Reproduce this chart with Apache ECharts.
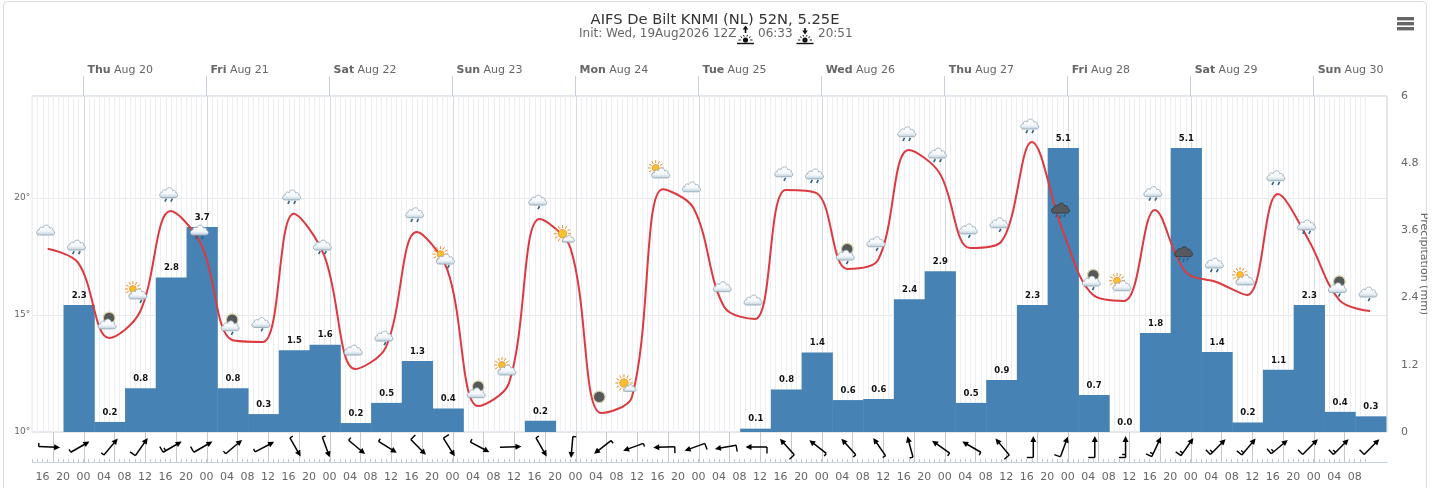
<!DOCTYPE html>
<html><head><meta charset="utf-8">
<style>html,body{margin:0;padding:0;background:#fff;overflow:hidden}#c{width:1432px;height:488px}</style>
<script src="https://cdn.jsdelivr.net/npm/echarts@6/dist/echarts.min.js"></script>
</head><body><div id="c"></div>
<script>
const FONT = '"DejaVu Sans", Verdana, sans-serif';
const titleText = 'AIFS De Bilt KNMI (NL) 52N, 5.25E';
const initText = 'Init: Wed, 19Aug2026 12Z';
const sunriseText = '06:33';
const sunsetText = '20:51';
const precipAxisName = 'Precipitation (mm)';
const dayHours = [0,24,48,72,96,120,144,168,192,216,240];
const dayNames = ['Thu','Fri','Sat','Sun','Mon','Tue','Wed','Thu','Fri','Sat','Sun'];
const dayDates = ['Aug 20','Aug 21','Aug 22','Aug 23','Aug 24','Aug 25','Aug 26','Aug 27','Aug 28','Aug 29','Aug 30'];
const temperature = [17.83,17.22,14.02,15.13,19.44,18.0,13.93,13.85,19.33,17.52,12.69,13.63,18.55,16.92,11.11,12.09,19.10,17.86,10.81,11.5,20.38,19.57,15.34,14.83,20.34,20.21,16.97,17.35,22.05,21.07,17.86,18.12,22.39,18.63,15.85,15.60,19.49,16.84,16.41,15.85,20.17,18.21,15.64,15.17];
const iconTemps = [18.63,17.99,14.62,15.90,20.23,18.63,14.54,14.68,20.13,17.99,13.50,14.10,19.37,17.39,11.68,12.65,19.91,18.26,11.50,11.88,21.07,20.48,16.21,15.64,21.12,21.03,17.56,18.13,22.83,21.92,18.68,18.94,23.16,19.57,16.45,16.25,20.27,17.71,17.22,16.50,20.95,18.85,16.17,15.98];
const iconKinds = ['c','r2','moon','sund','r2','r2','moond','r1','r2','r2','c','r1','r2','sund','moon','sun','r1','bigsun','moononly','bigsun','sun','c','c','c','r1','r2','moond','r1','r2','r2','r1','r1','r2','storm','moond','sun','r2','storm','r2','sun','r2','r2','moond','r1'];
const precipitation = [2.27,0.18,0.78,2.76,3.66,0.78,0.32,1.46,1.56,0.16,0.52,1.27,0.42,null,null,0.2,null,null,null,null,null,null,0.06,0.76,1.42,0.57,0.59,2.37,2.87,0.52,0.93,2.27,5.07,0.66,0,1.77,5.07,1.43,0.17,1.11,2.27,0.36,0.28];
const windBearing = [93,60,40,35,60,60,50,62,150,160,130,122,135,148,118,88,150,185,232,250,268,250,260,270,318,308,318,325,345,305,300,320,0,20,0,0,25,35,45,40,50,45,45,45];
const windKnots = [5,5,5,10,15,10,5,5,5,5,5,5,10,10,5,0,5,5,5,5,10,10,10,10,10,5,5,5,5,5,5,10,10,10,10,15,15,15,15,15,15,10,15,10];

const firstPointHour = -7, stepHours = 6;
const pointHour = k => firstPointHour + stepHours * k;
const barHour = k => -0.85 + stepHours * k;
const X_MIN = -10, X_MAX = 254.3, GRID_END = 250;
const hourTicks = [], fourHourTicks = [], sixHourTicks = [], allHours = [];
for (let h = X_MIN; h <= GRID_END; h++) {
  allHours.push([h, 0]);
  hourTicks.push(h);
  if (((h % 4) + 4) % 4 === 0 && h <= 248 && h >= -8) fourHourTicks.push(h);
  if (((h % 6) + 6) % 6 === 0) sixHourTicks.push([h, 0]);
}

const CLOUD = 'M-7,5 C-10.5,5 -10.5,0.4 -7,0.2 C-7.2,-2.4 -4,-3 -2.8,-1.6 C-2,-5 3.4,-5.4 4.4,-1.4 C6.4,-2.6 8.2,-1 7.6,0.6 C10.4,1 10.4,5 7,5 Z';
function cloud(x, y, s, dark) {
  return {type:'path', shape:{pathData:CLOUD, layout:'cover', x:x-9*s, y:y-5*s, width:18*s, height:10*s},
    style:{fill: dark ? '#55595e' : new echarts.graphic.LinearGradient(0,0,0,1,[{offset:0,color:'#ffffff'},{offset:0.6,color:'#f3f7fa'},{offset:1,color:'#b9cddb'}]),
      stroke: dark ? '#33373a' : '#8fa3b2', lineWidth:0.8}};
}
function drop(x, y) { return {type:'line', shape:{x1:x+0.8,y1:y-1.5,x2:x-0.8,y2:y+1.5}, style:{stroke:'#2f6286', lineWidth:1.6}}; }
function sun(x, y, r) {
  const out = [];
  for (let i = 0; i < 12; i++) {
    const a = i * Math.PI / 6;
    out.push({type:'line', shape:{x1:x+Math.cos(a)*(r+1.5), y1:y+Math.sin(a)*(r+1.5), x2:x+Math.cos(a)*(r+4.5), y2:y+Math.sin(a)*(r+4.5)}, style:{stroke:'#f28c28', lineWidth:1}});
  }
  out.push({type:'circle', shape:{cx:x,cy:y,r:r}, style:{fill:'#fbc02d', stroke:'#f28c28', lineWidth:0.8}});
  return out;
}
function moon(x, y) {
  return [{type:'circle', shape:{cx:x,cy:y,r:5.8}, style:{fill:'#55585a', stroke:'#d8cfa8', lineWidth:1.2}}];
}
function iconParts(kind) {
  switch (kind) {
    case 'c': return [cloud(0,0,1)];
    case 'r1': return [cloud(0,0,1), drop(1,7.5)];
    case 'r2': return [cloud(0,0,1), drop(-3,7.5), drop(3,7.5)];
    case 'sun': return [...sun(-5,-5,3.4), cloud(0,0,1)];
    case 'sund': return [...sun(-5,-5,3.4), cloud(0,0,1), drop(3,7.5)];
    case 'moon': return [...moon(2,-6), cloud(0,0,1)];
    case 'moond': return [...moon(2,-6), cloud(0,0,1), drop(2,7.5)];
    case 'bigsun': return [...sun(-6,-5,4.2), cloud(0,0,0.68)];
    case 'moononly': return [...moon(0,0)];
    case 'storm': return [cloud(0,0,1,true), drop(-4,7.5), drop(0,8.5), drop(4,7.5)];
  }
  return [];
}

const barData = precipitation.map((v, i) => [barHour(i), v]).filter(d => d[1] !== null);
const lineData = temperature.map((v, k) => [pointHour(k), v]);
const iconData = iconTemps.map((v, k) => [pointHour(k), v, k]);
const windData = windBearing.map((b, k) => [pointHour(k), 0.5, b, windKnots[k]]);

function sunGlyph(cx, up) {
  const y0 = 40, kids = [];
  kids.push({type:'line', shape:{x1:cx-8.5,y1:43.5,x2:cx+8.5,y2:43.5}, style:{stroke:'#111',lineWidth:1.4}});
  kids.push({type:'circle', shape:{cx:cx,cy:y0,r:2.6}, style:{fill:'#111'}});
  [[-7,0],[-5,-3.4],[-2,-5],[2,-5],[5,-3.4],[7,0]].forEach(p => {
    kids.push({type:'line', shape:{x1:cx+p[0]*0.68,y1:y0+p[1]*0.68,x2:cx+p[0],y2:y0+p[1]}, style:{stroke:'#111',lineWidth:1}});
  });
  kids.push({type:'line', shape:{x1:cx,y1:28,x2:cx,y2:33}, style:{stroke:'#111',lineWidth:1.6}});
  kids.push({type:'polygon', shape:{points: up ? [[cx,25.5],[cx+2.8,29.5],[cx-2.8,29.5]] : [[cx,34.5],[cx+2.8,30.5],[cx-2.8,30.5]]}, style:{fill:'#111'}});
  return kids;
}
const subStyle = {font:'12px '+FONT, fill:'#666'};

const option = {
  animation:false,
  backgroundColor:'#ffffff',
  title:{text:titleText, left:710, top:8, textAlign:'center', textStyle:{fontFamily:FONT,fontSize:14.7,fontWeight:'normal',color:'#333'}},
  grid:[
    {left:32.26, width:1354.74, top:96, height:336, show:true, borderColor:'#c6cfdd', borderWidth:1, backgroundColor:'transparent', outerBoundsMode:'none'},
    {left:32.26, width:1354.74, top:432, height:30, show:false, outerBoundsMode:'none'}
  ],
  xAxis:[
    {type:'value', gridIndex:0, min:X_MIN, max:X_MAX, show:false},
    {type:'value', gridIndex:0, min:X_MIN, max:X_MAX, position:'top',
      axisLine:{show:false}, splitLine:{show:false},
      axisTick:{show:true, length:20, customValues:dayHours, lineStyle:{color:'#c6cfdd'}},
      axisLabel:{show:true, customValues:dayHours, align:'left', margin:20, padding:[0,0,0,4],
        formatter:v=>{const i=dayHours.indexOf(v); return '{d|'+dayNames[i]+'} {a|'+dayDates[i]+'}';},
        rich:{d:{fontFamily:FONT,fontSize:11,fontWeight:'bold',color:'#666'},a:{fontFamily:FONT,fontSize:11,color:'#666'}}}},
    {type:'value', gridIndex:1, min:X_MIN, max:X_MAX, position:'bottom',
      axisLine:{show:true,lineStyle:{color:'#c6cfdd'}}, splitLine:{show:false},
      axisTick:{show:true, inside:true, length:3, customValues:hourTicks, lineStyle:{color:'#bfc7d3'}},
      axisLabel:{show:true, customValues:fourHourTicks, margin:10, fontFamily:FONT, fontSize:11, color:'#666',
        formatter:v=>{const h=(((v%24)+24)%24); return (h<10?'0':'')+h;}}}
  ],
  yAxis:[
    {type:'value', gridIndex:0, min:10, max:24.36, interval:5, position:'left',
      axisLine:{show:false}, axisTick:{show:false}, splitLine:{show:true,lineStyle:{color:'#e8e8e8'}},
      axisLabel:{margin:2, fontFamily:FONT, fontSize:9, color:'#666', showMaxLabel:false, formatter:v=>v+'°'}},
    {type:'value', gridIndex:0, min:0, max:6, interval:1.2, position:'right',
      axisLine:{show:false}, axisTick:{show:false}, splitLine:{show:false},
      axisLabel:{margin:14, fontFamily:FONT, fontSize:11, color:'#666', formatter:v=>+v.toFixed(1)+''}},
    {type:'value', gridIndex:1, min:0, max:1, show:false}
  ],
  series:[
    {type:'custom', xAxisIndex:0, yAxisIndex:0, z:1, silent:true, clip:false, data:allHours, encode:{x:0,y:1},
      renderItem:(p,api)=>{
        const h=api.value(0), a=api.coord([h,24.36]), b=api.coord([h,10]), x=Math.round(a[0])+0.5;
        return {type:'line', shape:{x1:x,y1:a[1],x2:x,y2:b[1]}, style:{stroke:(((h%24)+24)%24===0)?'#d5dbe5':'#eceef1',lineWidth:1}};
      }},
    {type:'custom', xAxisIndex:2, yAxisIndex:2, z:1, silent:true, clip:false, data:sixHourTicks, encode:{x:0,y:1},
      renderItem:(p,api)=>{
        const h=api.value(0), a=api.coord([h,1]), b=api.coord([h,0]), x=Math.round(a[0])+0.5;
        return {type:'line', shape:{x1:x,y1:a[1],x2:x,y2:b[1]}, style:{stroke:'#c8c8c8',lineWidth:1}};
      }},
    {name:'Precipitation', type:'bar', xAxisIndex:0, yAxisIndex:1, z:2, barWidth:31.2, data:barData,
      itemStyle:{color:'#4682b4'},
      label:{show:true, position:'top', distance:5, fontFamily:FONT, fontSize:8.5, fontWeight:'bold', color:'#111',
        textBorderColor:'#fff', textBorderWidth:1.5, formatter:p=>p.value[1].toFixed(1)}},
    {name:'Temperature', type:'line', xAxisIndex:0, yAxisIndex:0, z:3, data:lineData, smooth:0.36,
      showSymbol:false, symbol:'none', lineStyle:{color:'#dc3a40',width:2}},
    {type:'custom', xAxisIndex:0, yAxisIndex:0, z:4, silent:true, clip:false, data:iconData, encode:{x:0,y:1},
      renderItem:(p,api)=>{
        const c=api.coord([api.value(0),api.value(1)]), k=api.value(2);
        return {type:'group', x:c[0]-2, y:c[1], children:iconParts(iconKinds[k])};
      }},
    {type:'custom', xAxisIndex:2, yAxisIndex:2, z:4, silent:true, clip:false, data:windData, encode:{x:0,y:1},
      renderItem:(p,api)=>{
        const c=api.coord([api.value(0),api.value(1)]), b=api.value(2), kn=api.value(3);
        const kids=[{type:'line',shape:{x1:0,y1:10.5,x2:0,y2:-7},style:{stroke:'#000',lineWidth:1.5}},
          {type:'polygon',shape:{points:[[0,-11],[3,-5],[-3,-5]]},style:{fill:'#000'}}];
        let left=kn, yy=10.5;
        while(left>=10){kids.push({type:'line',shape:{x1:0,y1:yy,x2:-6.5,y2:yy},style:{stroke:'#000',lineWidth:1.4}}); left-=10; yy-=3;}
        if(left>=5){kids.push({type:'line',shape:{x1:0,y1:yy,x2:-3.4,y2:yy},style:{stroke:'#000',lineWidth:1.4}});}
        return {type:'group',x:c[0]+1.5,y:c[1],rotation:-b*Math.PI/180,children:kids};
      }}
  ],
  graphic:[
    {type:'rect', silent:true, z:-1, shape:{x:3.5,y:1.5,width:1423,height:500,r:4}, style:{fill:'transparent',stroke:'#dcdcdc',lineWidth:1}},
    {type:'text', silent:true, z:5, x:1424, y:264, rotation:-Math.PI/2, style:{text:precipAxisName, font:'11px '+FONT, fill:'#666', align:'center', verticalAlign:'middle'}},
    {type:'rect', silent:true, z:100, shape:{x:1427.5,y:0,width:5,height:488}, style:{fill:'#fff'}},
    {type:'rect', silent:true, shape:{x:1397,y:17,width:17,height:3.4}, style:{fill:'#666'}},
    {type:'rect', silent:true, shape:{x:1397,y:22,width:17,height:3.4}, style:{fill:'#666'}},
    {type:'rect', silent:true, shape:{x:1397,y:27,width:17,height:3.4}, style:{fill:'#666'}},
    {type:'text', silent:true, x:579, y:28, style:{text:initText, ...subStyle}},
    {type:'text', silent:true, x:758, y:28, style:{text:sunriseText, ...subStyle}},
    {type:'text', silent:true, x:818, y:28, style:{text:sunsetText, ...subStyle}},
    {type:'group', silent:true, children:sunGlyph(745.5,true)},
    {type:'group', silent:true, children:sunGlyph(805,false)}
  ]
};
const chart = echarts.init(document.getElementById('c'), null, {renderer:'canvas', width:1432, height:488});
chart.setOption(option);
</script></body></html>
